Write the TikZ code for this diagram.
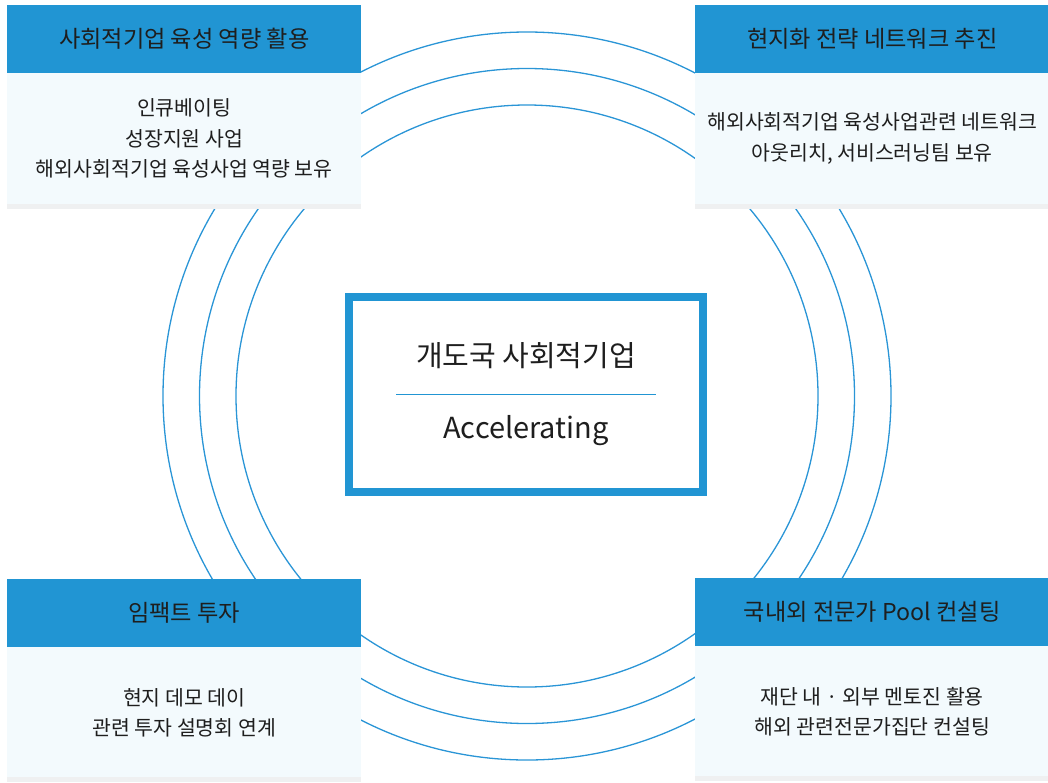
\documentclass[tikz,border=0pt]{standalone}
\usepackage{fontspec}
\setmainfont{Noto Sans CJK KR}
\definecolor{hdrblue}{HTML}{2195D3}
\definecolor{ringblue}{HTML}{2A95D6}
\definecolor{bodybg}{HTML}{F3FAFD}
\definecolor{stripgray}{HTML}{EFF0F1}
\definecolor{txt}{HTML}{1E1E1E}
\tikzset{
  hdr/.style={fill=hdrblue, text=txt, anchor=north west, minimum width=354pt, minimum height=68pt, inner sep=0pt, font=\fontsize{23.2}{26}\selectfont},
  bodybox/.style={fill=bodybg, text=txt, anchor=north west, minimum width=354pt, minimum height=131pt, inner sep=0pt, align=center, font=\fontsize{20.5}{30.5}\selectfont},
  strip/.style={fill=stripgray, anchor=north west, minimum width=354pt, minimum height=5pt, inner sep=0pt},
  ring/.style={draw=ringblue, line width=1.3pt},
  ctrtext/.style={text=txt, font=\fontsize{29}{32}\selectfont},
}
\begin{document}
\begin{tikzpicture}[x=1pt,y=-1pt]
\useasboundingbox (0,0) rectangle (1048,782);
\coordinate (c) at (527,396);
\draw[ring] (c) circle[radius=364pt];
\draw[ring] (c) circle[radius=327.5pt];
\draw[ring] (c) circle[radius=291pt];
% top-left
\node[hdr] (h1) at (7,5) {사회적기업 육성 역량 활용};
\node[bodybox] (b1) at (7,73) {인큐베이팅\\성장지원 사업\\해외사회적기업 육성사업 역량 보유};
\node[strip] (s1) at (7,204) {};
% top-right
\node[hdr] (h2) at (695,5) {현지화 전략 네트워크 추진};
\node[bodybox] (b2) at (695,73) {해외사회적기업 육성사업관련 네트워크\\아웃리치, 서비스러닝팀 보유};
\node[strip] (s2) at (695,204) {};
% bottom-left
\node[hdr] (h3) at (7,579) {임팩트 투자};
\node[bodybox] (b3) at (7,647) {현지 데모 데이\\관련 투자 설명회 연계};
\node[strip] (s3) at (7,777) {};
% bottom-right
\node[hdr] (h4) at (695,578) {국내외 전문가 Pool 컨설팅};
\node[bodybox] (b4) at (695,646) {재단 내 · 외부 멘토진 활용\\해외 관련전문가집단 컨설팅};
\node[strip] (s4) at (695,776) {};
% center
\node[draw=hdrblue, fill=white, line width=8pt, minimum width=354pt, minimum height=195pt, inner sep=0pt] (ctr) at (526,394.5) {};
\node[ctrtext] (t1) at (526,356) {개도국 사회적기업};
\draw[hdrblue, line width=1pt] (396,394) -- (656,394);
\node[ctrtext] (t2) at (526,431) {Accelerating};
\end{tikzpicture}
\end{document}
